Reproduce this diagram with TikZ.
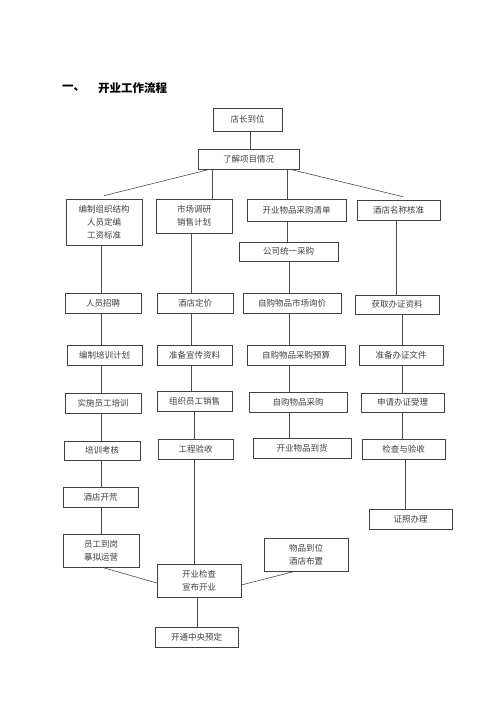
\documentclass[tikz,border=0pt]{standalone}
\usepackage{fontspec}
\newfontfamily\cjk{Noto Sans CJK SC}
\usepackage{tikz}
\usetikzlibrary{positioning}

\tikzset{
  box/.style={draw=black!75, line width=0.6pt, inner sep=0pt, minimum height=20,
    align=center, text=black!75, font=\cjk\fontsize{8.5}{13}\selectfont},
  link/.style={draw=black!70, line width=0.6pt},
  title/.style={inner sep=0pt, anchor=west, font=\cjk\bfseries\fontsize{11.5}{14}\selectfont}
}

\begin{document}
\begin{tikzpicture}[x=1pt,y=-1pt]
\useasboundingbox[fill=white] (0,0) rectangle (500,707);

\node[title] (t_1) at (62,88) {一、};
\node[title] (t_2) at (98,88) {开业工作流程};

% top
\node[box, minimum width=69, minimum height=23] (dz) at (247.5,119.5) {店长到位};
\node[box, minimum width=101] (lj) at (248.5,159) {了解项目情况};

% first row
\node[box, minimum width=76, minimum height=46] (zz) at (104,222) {编制组织结构\\人员定编\\工资标准};
\node[box, minimum width=76, minimum height=34] (sc) at (194,216) {市场调研\\销售计划};
\node[box, minimum width=99, minimum height=22] (qd) at (296.5,210) {开业物品采购清单};
\node[box, minimum width=83] (mc) at (398.5,210) {酒店名称核准};
\node[box, minimum width=99, minimum height=19] (cg) at (288.5,251.5) {公司统一采购};

% column 1
\node[box, minimum width=76] (zp) at (103,303) {人员招聘};
\node[box, minimum width=75] (px) at (104.5,355) {编制培训计划};
\node[box, minimum width=76] (ss) at (103,403) {实施员工培训};
\node[box, minimum width=76, minimum height=19] (kh) at (102,450.5) {培训考核};
\node[box, minimum width=75] (kh_2) at (100.5,497) {酒店开荒};
\node[box, minimum width=76, minimum height=33] (dg) at (101,550.5) {员工到岗\\摹拟运营};

% column 2
\node[box, minimum width=76] (dj) at (195,303) {酒店定价};
\node[box, minimum width=75] (xc) at (194.5,355) {准备宣传资料};
\node[box, minimum width=75] (xs) at (194.5,401) {组织员工销售};
\node[box, minimum width=75] (gc) at (195.5,449) {工程验收};

% column 3
\node[box, minimum width=98] (xj) at (292,303) {自购物品市场询价};
\node[box, minimum width=98] (ys) at (296,355) {自购物品采购预算};
\node[box, minimum width=98] (zg) at (298,402) {自购物品采购};
\node[box, minimum width=98] (dh) at (302,448) {开业物品到货};
\node[box, minimum width=84, minimum height=33] (wp) at (306,554.5) {物品到位\\酒店布置};

% column 4
\node[box, minimum width=84, minimum height=19] (hq) at (397,304.5) {获取办证资料};
\node[box, minimum width=84] (wj) at (401,355) {准备办证文件};
\node[box, minimum width=83, minimum height=19] (sq) at (402.5,402.5) {申请办证受理};
\node[box, minimum width=83] (jc) at (403.5,449) {检查与验收};
\node[box, minimum width=83] (zb) at (410.5,519) {证照办理};

% bottom
\node[box, minimum width=84, minimum height=33] (kyjc) at (199,580.5) {开业检查\\宣布开业};
\node[box, minimum width=83] (yd) at (196.5,637) {开通中央预定};

% line columns
\coordinate (c_0) at (250,0);
\coordinate (c_1) at (101,0);
\coordinate (c_2) at (191,0);
\coordinate (c_3) at (194,0);
\coordinate (c_4) at (289,0);
\coordinate (c_5) at (396,0);
\coordinate (c_6) at (402,0);
\coordinate (c_7) at (405.5,0);
\coordinate (c_8) at (197,0);

\path[link]
  (dz.south -| c_0) edge (lj.north -| c_0)
  ([xshift=-38.5]lj.south) edge ([yshift=3]zz.north)
  ([xshift=-36.5]lj.south) edge ([xshift=18]sc.north)
  ([xshift=38.5]lj.south) edge ([xshift=-9.5]qd.north)
  ([xshift=41.5]lj.south) edge ([xshift=4.5,yshift=3]mc.north);

\path[link]
  (zz.south -| c_1) edge (zp.north -| c_1)
  (zp.south -| c_1) edge (px.north -| c_1)
  (px.south -| c_1) edge (ss.north -| c_1)
  (ss.south -| c_1) edge (kh.north -| c_1)
  (kh.south -| c_1) edge (kh_2.north -| c_1)
  (kh_2.south -| c_1) edge (dg.north -| c_1)
  ([xshift=1]dg.south) edge ([yshift=-2.5]kyjc.west);

\path[link]
  (sc.south -| c_2) edge (dj.north -| c_2)
  (dj.south -| c_2) edge (xc.north -| c_2)
  (xc.south -| c_2) edge (xs.north -| c_2)
  (xs.south -| c_3) edge (gc.north -| c_3)
  (gc.south -| c_3) edge (kyjc.north -| c_3)
  (kyjc.south -| c_8) edge (yd.north -| c_8);

\path[link]
  ([xshift=-9]qd.south) edge ([xshift=-1]cg.north)
  (cg.south -| c_4) edge (xj.north -| c_4)
  (xj.south -| c_4) edge (ys.north -| c_4)
  (ys.south -| c_4) edge (zg.north -| c_4)
  (zg.south -| c_4) edge (dh.north -| c_4)
  ([xshift=-11]wp.south) edge ([yshift=-4.5]kyjc.east);

\path[link]
  (mc.south -| c_5) edge (hq.north -| c_5)
  (hq.south -| c_6) edge (wj.north -| c_6)
  (wj.south -| c_6) edge (sq.north -| c_6)
  (sq.south -| c_6) edge (jc.north -| c_6)
  (jc.south -| c_7) edge (zb.north -| c_7);
\end{tikzpicture}
\end{document}
